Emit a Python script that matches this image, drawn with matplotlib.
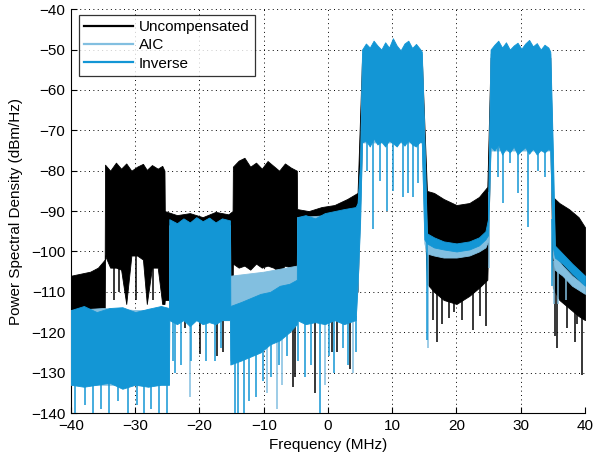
import numpy as np
import matplotlib
matplotlib.use("Agg")
import matplotlib.pyplot as plt
from matplotlib.lines import Line2D

plt.rcParams["font.family"] = ["Liberation Sans", "DejaVu Sans"]

# colours
c_unc = "black"
c_aic = "#82bfe0"
c_inv = "#1396d5"

# Uncompensated: envelope (upper / lower) of the dense trace
unc_f = [-40, -38.5, -37, -35.8, -35.0, -34.75,
         -34.7, -33.9, -33.0, -32.2, -31.4, -30.6, -29.7, -28.8, -28.2, -27.4, -26.5, -25.8, -25.45,
         -25.4, -23.5, -21.5, -19.5, -17.5, -15.5, -14.85,
         -14.8, -13.9, -13.0, -12.1, -11.2, -10.3, -9.4, -8.5, -7.6, -6.7, -5.8, -4.85,
         -4.8, -3.0, -1.0, 1.0, 3.0, 4.6,
         5.3, 14.6,
         15.4, 16.5, 18.0, 20.0, 22.0, 23.5, 24.8,
         25.3, 34.6,
         35.0, 36.0, 37.5, 39.0, 40]
unc_hi = [-106, -105.5, -105, -104, -102.5, -102,
          -78.5, -80, -78, -79.5, -78.2, -80, -79, -78.3, -79.8, -78.6, -79.5, -78.8, -80,
          -90, -91, -90.5, -91.5, -90.2, -90.8, -90,
          -79, -77.5, -76.8, -79, -78, -79.5, -77.6, -78.8, -80, -78.2, -79.2, -80,
          -89.5, -90, -89, -88.5, -87, -85.5,
          -52, -52,
          -85, -85.5, -87, -88.5, -88, -86.5, -84,
          -52, -52,
          -86.5, -88, -89.5, -91.5, -94]
unc_lo = [-118, -118, -118, -117, -116, -116,
          -101, -104, -104, -104.5, -113, -101, -101, -102, -113, -104, -104, -113, -113,
          -112, -112, -112, -112, -112, -112, -112,
          -103, -104, -103.5, -104.5, -103, -104, -103.5, -104, -105, -103.5, -104, -104,
          -112, -112, -112, -112, -112, -110,
          -72, -72,
          -108, -110, -112, -113, -111, -109, -107,
          -72, -72,
          -109, -112, -114, -116, -117]
unc_spk_f = [-33.3, -32.6, -29.9, -27.2, -22.3, -19.9, -17.3, -16.3, -5.4, -5.1, -2.0, 0.6, 1.4, 3.4,
             16.3, 17.0, 17.8, 18.8, 19.6, 20.9, 22.5, 23.6, 24.6, 35.3, 35.7, 37.2, 38.5, 38.8, 39.5]
unc_spk_lo = [-112, -110, -112, -112, -119, -125.5, -126, -125, -133.5, -131, -135, -125, -125, -129,
              -117, -122.5, -118, -116.5, -115, -117, -119.5, -116, -118.5, -121, -124, -119, -122.5, -118, -130.5]

# AIC
aic_f = [-40, -35, -30, -24.75, -24.7, -20, -15.25, -15.2, -10, -4.85, -4.8, 0, 4.3, 4.6, 5.0, 5.3,
         10, 14.6, 15.0, 15.4, 16.5, 18, 20, 22, 23.5, 24.5, 24.9, 25.3, 30, 34.6, 35.0, 35.3, 36.5, 38, 40]
aic_hi = [-114.5, -114, -114.5, -114.5, -93.5, -93.5, -93.5, -106, -105, -103.5, -91.5, -91, -89.5, -89, -80, -51,
          -51, -51, -74, -97.5, -98.5, -99, -99.5, -99, -98, -96.5, -94, -51, -51, -51, -78, -101, -103.5, -106, -108.5]
aic_lo = [-133, -133, -133, -133, -117, -117, -117, -127, -124, -117, -117, -117, -117, -109, -93, -73,
          -73, -73, -98, -100.5, -101, -101.5, -101.5, -101, -100, -99, -97.5, -75, -75, -75, -101, -104.5, -106, -108.5, -110.5]
aic_spk_f = [-21.4, -9.5, -8.0, -7.2, -0.5, 3.9, 15.5, 25.1, 35.2, 35.8, 37.0]
aic_spk_lo = [-136, -135, -139, -133, -133, -130, -124, -104, -113, -113, -112]

# Inverse
inv_f = [-40, -38, -36, -34, -32, -30, -28, -26, -24.75,
         -24.7, -23.5, -22.5, -21.5, -20.5, -19.5, -18.5, -17.5, -16.5, -15.25,
         -15.2, -13.5, -12, -10.5, -9, -7.5, -6, -4.85,
         -4.8, -3.5, -2, -0.5, 1, 2.5, 4.3, 4.6,
         5.0, 5.3, 5.9, 6.5, 7.1, 7.7, 8.3, 8.9, 9.5, 10.1, 10.7, 11.3, 11.9, 12.5, 13.1, 13.7, 14.3, 14.6,
         15.0, 15.4, 16.5, 18, 20, 22, 23.5, 24.5, 24.9,
         25.3, 25.9, 26.5, 27.1, 27.7, 28.3, 28.9, 29.5, 30.1, 30.7, 31.3, 31.9, 32.5, 33.1, 33.7, 34.3, 34.6,
         35.0, 35.3, 36.5, 38, 40]
inv_hi = [-114.5, -113.5, -115, -114, -113.8, -115, -114.2, -113.5, -114,
          -92, -93, -91.8, -92.8, -91.5, -92.5, -91.6, -92.8, -91.8, -92.3,
          -113.5, -112.5, -111.5, -110.5, -110, -108.5, -108, -107,
          -91.5, -91, -91.8, -90.5, -90, -89.5, -89, -88,
          -78, -50, -48.5, -49.5, -47.8, -49, -50, -48.2, -49.5, -47.2, -49, -50.2, -48.5, -47.8, -49.6, -48.6, -49.8, -50.5,
          -72, -95.5, -96.5, -97.5, -98, -97.5, -96.5, -95, -92,
          -50, -48.8, -47.8, -49.5, -48.2, -50, -49, -48.3, -49.8, -48.5, -47.6, -49.2, -48.4, -50, -48.8, -49.5, -50.5,
          -75, -98.5, -100.5, -103, -106]
inv_lo = [-133, -133.5, -133, -132.5, -134, -133, -133.5, -133, -133,
          -117, -118, -117, -118.5, -117, -118, -117.5, -118, -117, -117,
          -128, -127, -126, -125, -123, -122, -120, -118,
          -117, -118, -117.5, -118, -117, -118, -117, -108,
          -92, -73, -72.5, -74, -72, -73.5, -72.8, -74, -72.5, -73.2, -74, -72.6, -73.8, -72.4, -73.5, -74, -72.8, -73,
          -97, -98, -99, -99.5, -100, -99.5, -98.5, -97, -96,
          -74, -75, -73.5, -76, -74.5, -75.5, -74, -76, -75, -74.2, -75.8, -74.5, -76, -74.8, -75.5, -74.6, -75,
          -99, -101.5, -103, -105.5, -108.5]
inv_spk_f = [-39.4, -37.8, -36.6, -35.3, -34.1, -32.7, -31.2, -29.8, -28.6, -27.5, -26.3, -25.1,
             -24.1, -23.8, -22.9, -21.3, -19.0, -17.6, -16.6,
             -14.5, -14.0, -13.1, -12.3, -11.2, -10.1, -8.8, -7.7, -6.4,
             -4.6, -3.6, -2.7, -1.2, 0.2, 1.0, 2.3, 3.1, 4.3,
             6.1, 7.0, 8.1, 9.2, 10.1, 11.7, 12.5, 13.3, 14.0, 15.4,
             26.5, 27.2, 28.3, 29.6, 31.1, 32.7, 33.8, 34.9]
inv_spk_lo = [-140, -138, -140, -139, -140, -137, -140, -138, -140, -139, -140, -140,
              -127, -130, -128, -127, -127, -127, -124,
              -140, -140, -140, -137, -136, -132, -131, -128, -126,
              -127, -131, -128, -140, -126, -130, -124, -128, -125,
              -80, -94.5, -82.5, -90, -85, -86.5, -85.5, -86.5, -83, -122,
              -81.5, -88, -78, -85.5, -94, -80, -81.5, -108.5]

fig = plt.figure(figsize=(5.93, 4.59), dpi=100)
ax = fig.add_axes([0.1197, 0.1002, 0.8668, 0.8798])

series = [
    (unc_f, unc_hi, unc_lo, unc_spk_f, unc_spk_lo, c_unc),
    (aic_f, aic_hi, aic_lo, aic_spk_f, aic_spk_lo, c_aic),
    (inv_f, inv_hi, inv_lo, inv_spk_f, inv_spk_lo, c_inv),
]
for z, (f, hi, lo, sf, slo, col) in enumerate(series):
    ax.fill_between(f, lo, hi, color=col, lw=0.6, zorder=2 + z)
    top = np.interp(sf, f, lo) + 1.0
    ax.vlines(sf, slo, top, color=col, lw=1.1, zorder=2 + z)

ax.set_xlim(-40, 40)
ax.set_ylim(-140, -40)
ax.set_xticks(np.arange(-40, 41, 10))
ax.set_yticks(np.arange(-140, -39, 10))
ax.tick_params(direction="in", length=4, labelsize=11, pad=4)
ax.spines["top"].set_visible(False)
ax.spines["right"].set_visible(False)
ax.grid(True, color="black", linestyle=(0, (1, 3.5)), lw=0.7)
ax.set_axisbelow(True)

ax.set_xlabel("Frequency (MHz)", fontsize=11, labelpad=4)
ax.set_ylabel("Power Spectral Density (dBm/Hz)", fontsize=11, labelpad=6)

handles = [Line2D([], [], color=c_unc, lw=1.6),
           Line2D([], [], color=c_aic, lw=1.6),
           Line2D([], [], color=c_inv, lw=1.6)]
leg = ax.legend(handles, ["Uncompensated", "AIC", "Inverse"], loc="upper left",
                bbox_to_anchor=(0.015, 0.986), fontsize=11, frameon=True, fancybox=False,
                handlelength=3.2, handletextpad=0.4, borderpad=0.35, labelspacing=0.28,
                borderaxespad=0)
leg.get_frame().set_edgecolor("black")
leg.get_frame().set_linewidth(0.9)
leg.set_zorder(10)

fig.savefig("out.png", dpi=100)
